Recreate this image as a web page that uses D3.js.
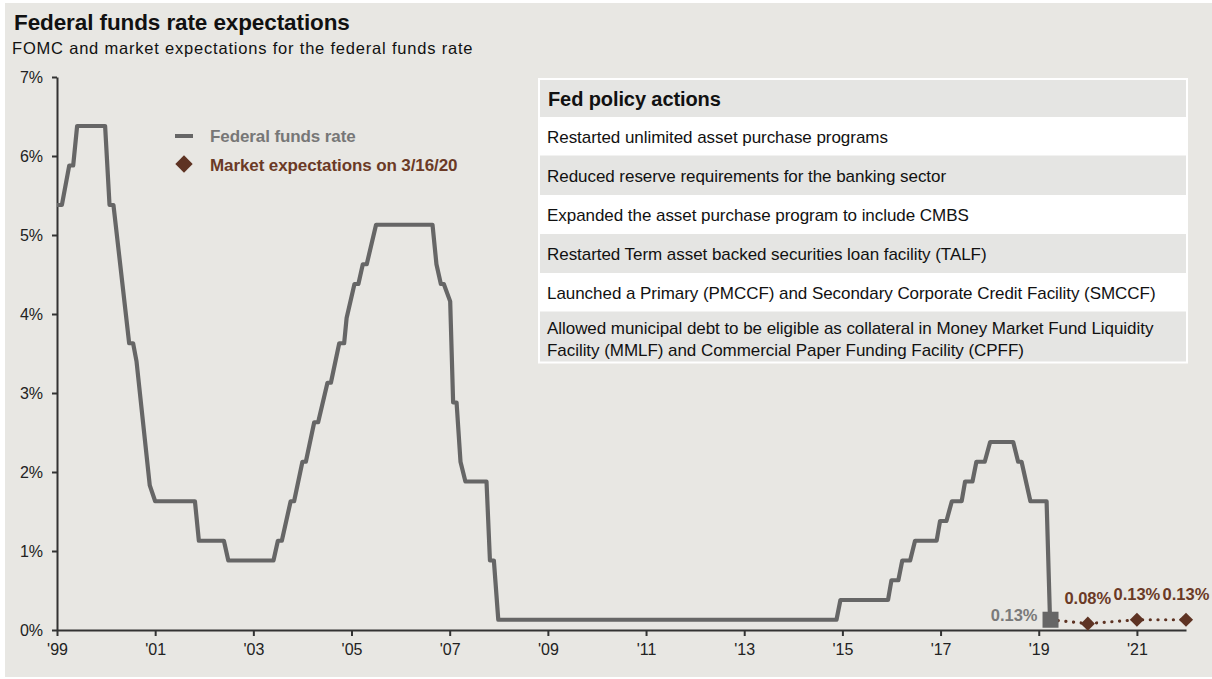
<!DOCTYPE html>
<html>
<head>
<meta charset="utf-8">
<script src="https://cdn.jsdelivr.net/npm/d3@7"></script>
<style>
  html, body { margin: 0; padding: 0; background: #ffffff; }
  svg { display: block; font-family: "Liberation Sans", Arial, sans-serif; }
</style>
</head>
<body>
<svg id="chart" width="1212" height="679"></svg>
<script>
// ---- Data ----
const rateDates = [1999.00, 1999.10, 1999.25, 1999.33, 1999.41, 1999.98, 2000.07, 2000.15, 2000.47, 2000.55,
  2000.62, 2000.89, 2001.00, 2001.81, 2001.89, 2002.40, 2002.49, 2003.41, 2003.50, 2003.58,
  2003.76, 2003.83, 2004.00, 2004.07, 2004.24, 2004.32, 2004.51, 2004.58, 2004.75, 2004.85,
  2004.90, 2005.06, 2005.14, 2005.23, 2005.31, 2005.50, 2006.65, 2006.73, 2006.82, 2006.88,
  2007.01, 2007.07, 2007.14, 2007.22, 2007.32, 2007.75, 2007.82, 2007.90, 2007.99, 2014.88,
  2014.96, 2015.93, 2016.00, 2016.14, 2016.22, 2016.38, 2016.48, 2016.92, 2016.99, 2017.12,
  2017.23, 2017.43, 2017.50, 2017.65, 2017.73, 2017.90, 2018.01, 2018.48, 2018.58, 2018.65,
  2018.83, 2019.16, 2019.23];
const rateValues = [5.38, 5.38, 5.88, 5.88, 6.38, 6.38, 5.38, 5.38, 3.63, 3.63,
  3.40, 1.83, 1.63, 1.63, 1.13, 1.13, 0.88, 0.88, 1.13, 1.13,
  1.63, 1.63, 2.13, 2.13, 2.63, 2.63, 3.13, 3.13, 3.63, 3.63,
  3.95, 4.38, 4.38, 4.63, 4.63, 5.13, 5.13, 4.63, 4.38, 4.38,
  4.16, 2.88, 2.88, 2.13, 1.88, 1.88, 0.88, 0.88, 0.13, 0.13,
  0.38, 0.38, 0.63, 0.63, 0.88, 0.88, 1.13, 1.13, 1.38, 1.38,
  1.63, 1.63, 1.88, 1.88, 2.13, 2.13, 2.38, 2.38, 2.13, 2.13,
  1.63, 1.63, 0.13];

const currentDate = 2019.24;
const currentRate = 0.13;
const currentLabel = "0.13%";

const expDates = [2020, 2021, 2022];
const expValues = [0.08, 0.13, 0.13];
const expLabels = ["0.08%", "0.13%", "0.13%"];

const xTickYears = [1999, 2001, 2003, 2005, 2007, 2009, 2011, 2013, 2015, 2017, 2019, 2021];
const xTickLabels = ["'99", "'01", "'03", "'05", "'07", "'09", "'11", "'13", "'15", "'17", "'19", "'21"];
const yTickValues = [0, 1, 2, 3, 4, 5, 6, 7];
const yTickLabels = ["0%", "1%", "2%", "3%", "4%", "5%", "6%", "7%"];

const legendLabels = ["Federal funds rate", "Market expectations on 3/16/20"];

const tableTitle = "Fed policy actions";
const tableRows = [
  ["Restarted unlimited asset purchase programs"],
  ["Reduced reserve requirements for the banking sector"],
  ["Expanded the asset purchase program to include CMBS"],
  ["Restarted Term asset backed securities loan facility (TALF)"],
  ["Launched a Primary (PMCCF) and Secondary Corporate Credit Facility (SMCCF)"],
  ["Allowed municipal debt to be eligible as collateral in Money Market Fund Liquidity",
   "Facility (MMLF) and Commercial Paper Funding Facility (CPFF)"]
];

const titleText = "Federal funds rate expectations";
const subtitleText = "FOMC and market expectations for the federal funds rate";

// ---- Styles ----
const BG = "#e8e7e3";
const ROW_GRAY = "#e5e5e3";
const LINE = "#666666";
const BROWN = "#5e3323";
const BROWN_TEXT = "#6b3a26";
const GRAY_TEXT = "#777777";
const AXIS = "#333333";

const svg = d3.select("#chart");

svg.append("rect").attr("x", 5).attr("y", 3).attr("width", 1207).attr("height", 674).attr("fill", BG);

// Titles
svg.append("text").attr("x", 14).attr("y", 30)
  .attr("font-size", 22.5).attr("font-weight", "bold").attr("fill", "#111")
  .attr("letter-spacing", -0.1).text(titleText);
svg.append("text").attr("x", 12).attr("y", 54)
  .attr("font-size", 16.5).attr("fill", "#111").attr("letter-spacing", 0.8).text(subtitleText);

// Scales
const x = d3.scaleLinear().domain([1999, 2022]).range([57, 1186]);
const y = d3.scaleLinear().domain([0, 7]).range([630, 77]);

// Y axis
const yAxis = d3.axisLeft(y).tickValues(yTickValues)
  .tickFormat((d, i) => yTickLabels[i]).tickSize(5).tickSizeOuter(0).tickPadding(9);
const gy = svg.append("g").attr("transform", "translate(57,0)").call(yAxis);
gy.select(".domain").attr("stroke", AXIS).attr("stroke-width", 2);
gy.selectAll(".tick line").attr("stroke", AXIS).attr("stroke-width", 2);
gy.selectAll(".tick text").attr("font-size", 16).attr("fill", "#222")
  .attr("font-family", "Liberation Sans, Arial, sans-serif");

// X axis
const xAxis = d3.axisBottom(x).tickValues(xTickYears)
  .tickFormat((d, i) => xTickLabels[i]).tickSize(6).tickSizeOuter(0).tickPadding(8);
const gx = svg.append("g").attr("transform", "translate(0,630)").call(xAxis);
gx.select(".domain").attr("stroke", AXIS).attr("stroke-width", 2);
gx.selectAll(".tick line").attr("stroke", AXIS).attr("stroke-width", 2);
gx.selectAll(".tick text").attr("font-size", 16).attr("fill", "#222")
  .attr("font-family", "Liberation Sans, Arial, sans-serif");

// Fed funds line
const rateData = rateDates.map((d, i) => ({ date: d, value: rateValues[i] }));
const line = d3.line().x(d => x(d.date)).y(d => y(d.value));
svg.append("path").datum(rateData).attr("d", line)
  .attr("fill", "none").attr("stroke", LINE).attr("stroke-width", 4.2).attr("stroke-linejoin", "round");

// Dotted expectations line
const expData = [{ date: currentDate, value: currentRate }].concat(
  expDates.map((d, i) => ({ date: d, value: expValues[i] })));
svg.append("path").datum(expData).attr("d", line)
  .attr("fill", "none").attr("stroke", BROWN).attr("stroke-width", 3.2)
  .attr("stroke-linecap", "round").attr("stroke-dasharray", "0.1 7.6");

// Current square marker
svg.append("rect")
  .attr("x", x(currentDate) - 8).attr("y", y(currentRate) - 8)
  .attr("width", 16).attr("height", 16).attr("fill", LINE);
svg.append("text").attr("x", x(currentDate) - 13).attr("y", y(currentRate) + 1)
  .attr("text-anchor", "end").attr("font-size", 16.5).attr("font-weight", "bold")
  .attr("fill", "#7a7a7a").text(currentLabel);

// Diamonds
const diamond = d3.symbol().type(d3.symbolSquare).size(100);
svg.selectAll(".exp").data(expData.slice(1)).enter().append("path")
  .attr("class", "exp")
  .attr("d", diamond)
  .attr("transform", d => `translate(${x(d.date)},${y(d.value)}) rotate(45)`)
  .attr("fill", BROWN);
svg.selectAll(".expLabel").data(expData.slice(1)).enter().append("text")
  .attr("x", d => x(d.date)).attr("y", d => y(d.value) - 20)
  .attr("text-anchor", "middle").attr("font-size", 16.5).attr("font-weight", "bold")
  .attr("fill", BROWN_TEXT).text((d, i) => expLabels[i]);

// Legend
svg.append("line").attr("x1", 175).attr("x2", 193).attr("y1", 136).attr("y2", 136)
  .attr("stroke", LINE).attr("stroke-width", 4);
svg.append("text").attr("x", 210).attr("y", 142).attr("font-size", 17).attr("font-weight", "bold")
  .attr("fill", GRAY_TEXT).attr("letter-spacing", -0.1).text(legendLabels[0]);
svg.append("path").attr("d", d3.symbol().type(d3.symbolSquare).size(150)())
  .attr("transform", "translate(184,164) rotate(45)").attr("fill", BROWN);
svg.append("text").attr("x", 210).attr("y", 171).attr("font-size", 17).attr("font-weight", "bold")
  .attr("fill", BROWN_TEXT).attr("letter-spacing", -0.1).text(legendLabels[1]);

// Table
const tX = 538, tW = 650, tY = 78;
const rowH = [37, 38.5, 39.5, 39, 39, 38.5, 50];
const tH = d3.sum(rowH) + 4;
svg.append("rect").attr("x", tX).attr("y", tY).attr("width", tW).attr("height", tH).attr("fill", "#ffffff");
let cy = tY + 2;
const rows = [[tableTitle]].concat(tableRows);
rows.forEach((r, i) => {
  const h = rowH[i];
  const fill = (i % 2 === 0) ? ROW_GRAY : "#ffffff";
  svg.append("rect").attr("x", tX + 2).attr("y", cy).attr("width", tW - 4).attr("height", h).attr("fill", fill);
  if (i === 0) {
    svg.append("text").attr("x", 548).attr("y", cy + 26).attr("font-size", 20).attr("font-weight", "bold")
      .attr("fill", "#111").attr("letter-spacing", -0.1).text(r[0]);
  } else if (r.length === 1) {
    svg.append("text").attr("x", 547).attr("y", cy + 26).attr("font-size", 17)
      .attr("fill", "#111").attr("letter-spacing", -0.05).text(r[0]);
  } else {
    r.forEach((ln, k) => {
      svg.append("text").attr("x", 547).attr("y", cy + 22 + k * 22).attr("font-size", 17)
        .attr("fill", "#111").attr("letter-spacing", -0.05).text(ln);
    });
  }
  cy += h;
});
</script>
</body>
</html>
